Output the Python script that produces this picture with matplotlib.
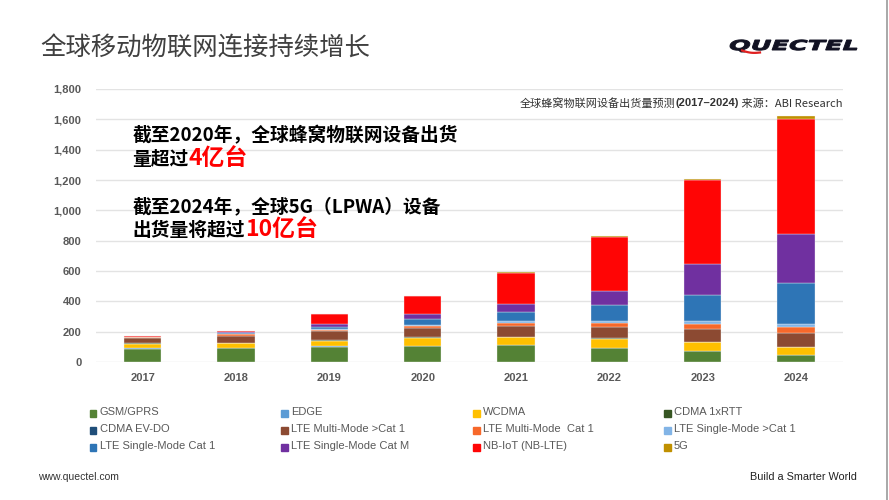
import numpy as np
import matplotlib
matplotlib.use("Agg")
import matplotlib.pyplot as plt
from matplotlib.patches import Rectangle, PathPatch
from matplotlib.textpath import TextPath
from matplotlib.font_manager import FontProperties
from matplotlib.transforms import Affine2D

plt.rcParams['font.family'] = ['Noto Sans CJK SC', 'DejaVu Sans']

# data (millions of units)
years = ['2017', '2018', '2019', '2020', '2021', '2022', '2023', '2024']
series = ['GSM/GPRS', 'EDGE', 'WCDMA', 'CDMA 1xRTT',
          'CDMA EV-DO', 'LTE Multi-Mode >Cat 1', 'LTE Multi-Mode  Cat 1', 'LTE Single-Mode >Cat 1',
          'LTE Single-Mode Cat 1', 'LTE Single-Mode Cat M', 'NB-IoT (NB-LTE)', '5G']
gsm = [88, 90, 100, 105, 110, 93, 73, 46]
edge = [3, 4, 3, 3, 2, 2, 2, 2]
wcdma = [30, 30, 38, 53, 55, 59, 55, 51]
cdma_1x = [2, 2, 2, 1, 1, 1, 0, 0]
cdma_evdo = [2, 1, 1, 1, 0, 0, 0, 0]
lte_mm_gt1 = [35, 47, 60, 61, 70, 76, 86, 95]
lte_mm_cat1 = [3, 8, 10, 15, 17, 26, 35, 35]
lte_sm_gt1 = [2, 3, 5, 5, 13, 16, 17, 20]
lte_sm_cat1 = [2, 5, 12, 40, 64, 105, 174, 272]
lte_catm = [1, 5, 18, 31, 53, 91, 207, 326]
nbiot = [3, 12, 66, 118, 205, 356, 550, 752]
g5 = [0, 0, 0, 2, 3, 3, 8, 22]
values = [gsm, edge, wcdma, cdma_1x, cdma_evdo, lte_mm_gt1, lte_mm_cat1,
          lte_sm_gt1, lte_sm_cat1, lte_catm, nbiot, g5]
colors = ['#548235', '#5B9BD5', '#FFC000', '#375623',
          '#1F4E79', '#8C4A32', '#F7682A', '#82B4E6',
          '#2E75B6', '#7030A0', '#FF0505', '#C09000']

LAT = ['Liberation Sans', 'DejaVu Sans']

fig = plt.figure(figsize=(8.89, 5.0), dpi=100)
ax = fig.add_axes([0.108, 0.276, 0.840, 0.546])

x = np.arange(len(years))
bottom = np.zeros(len(years))
for name, vals, c in zip(series, values, colors):
    ax.bar(x, vals, 0.4, bottom=bottom, color=c, label=name,
           edgecolor='#f4f4f4', linewidth=0.25)
    bottom += np.array(vals)

ax.set_xlim(-0.5, len(years) - 0.5)
ax.set_ylim(0, 1800)
ax.set_yticks(np.arange(0, 1801, 200))
ax.set_yticklabels(['{:,}'.format(v) for v in range(0, 1801, 200)])
ax.set_xticks(x)
ax.set_xticklabels(years)
for lab in ax.get_xticklabels() + ax.get_yticklabels():
    lab.set_fontweight('bold')
    lab.set_color('#595959')
    lab.set_fontsize(8)
    lab.set_family(LAT)
ax.tick_params(length=0, pad=8)
ax.tick_params(axis='y', pad=10.5)
ax.grid(axis='y', color='#e3e3e3', linewidth=1)
ax.set_axisbelow(True)
for s in ax.spines.values():
    s.set_visible(False)

# title
fig.text(0.045, 0.902, '全球移动物联网连接持续增长', fontsize=18.3, color='#404040', va='center')

# logo: bold italic text squeezed into a wide, short box
tp = TextPath((0, 0), 'QUECTEL', size=10,
              prop=FontProperties(family='DejaVu Sans', weight='bold', style='italic'))
ext = tp.get_extents()
sx = 127 / ext.width
sy = 10 / 7.3
logo_tr = Affine2D().translate(-ext.x0, 0).scale(sx, sy).translate(730, 500 - 50)
fig.add_artist(PathPatch(logo_tr.transform_path(tp), facecolor='#111122', edgecolor='#111122',
                         linewidth=0.7, transform=None))
qx = np.linspace(742, 760, 20)
qy = 500 - (50.5 + 2.0 * (qx - 742) / 18 + 1.2 * np.sin((qx - 742) / 18 * np.pi))
fig.add_artist(plt.Line2D(qx, qy, color='#E02020', linewidth=1.6, transform=None))

fig.add_artist(plt.Line2D([0.998, 0.998], [0, 1], color='#9a9a9a', linewidth=1.2))

# source note, built from three pieces and aligned to the plot's right edge
fig.canvas.draw()
r = fig.canvas.get_renderer()
parts = [('全球蜂窝物联网设备出货量预测', 'normal', None),
         ('(2017–2024)', 'bold', LAT),
         (' 来源：ABI Research', 'normal', None)]
texts = []
xpos = 0.5
for s, w, fam in parts:
    kw = {} if fam is None else {'family': fam}
    t = fig.text(xpos, 0.793, s, fontsize=8, fontweight=w, color='#333333', va='center', **kw)
    bb = t.get_window_extent(r)
    xpos = bb.x1 / fig.bbox.width
    texts.append(t)
shift = 0.948 - xpos
for t in texts:
    px, py = t.get_position()
    t.set_position((px + shift, py))

# annotations
def two_part(xf, yf, black, red):
    t = fig.text(xf, yf, black, fontsize=13.5, fontweight='bold', color='black', va='baseline')
    bb = t.get_window_extent(fig.canvas.get_renderer())
    fig.text(bb.x1 / fig.bbox.width, yf, red, fontsize=16.5, fontweight='bold',
             color='#FF0000', va='baseline')

fig.text(0.149, 0.718, '截至2020年，全球蜂窝物联网设备出货', fontsize=13.5, fontweight='bold',
         color='black', va='baseline')
two_part(0.149, 0.670, '量超过', '4亿台')
fig.text(0.149, 0.576, '截至2024年，全球5G（LPWA）设备', fontsize=13.5, fontweight='bold',
         color='black', va='baseline')
two_part(0.149, 0.528, '出货量将超过', '10亿台')

# legend drawn as a grid, row by row
col_x = [0.101, 0.316, 0.532, 0.747]
row_y = [0.176, 0.142, 0.108]
for i, (name, c) in enumerate(zip(series, colors)):
    cx = col_x[i % 4]
    cy = row_y[i // 4]
    fig.add_artist(Rectangle((cx, cy - 0.009), 0.0075, 0.0135, color=c, transform=fig.transFigure))
    fig.text(cx + 0.011, cy, name, fontsize=8, color='#595959', va='center', family=LAT)

# footer
fig.text(0.043, 0.046, 'www.quectel.com', fontsize=7.5, color='#333333', va='center', family=LAT)
fig.text(0.964, 0.046, 'Build a Smarter World', fontsize=7.8, color='#222222', va='center',
         ha='right', family=LAT)

fig.savefig('out.png', dpi=100)
